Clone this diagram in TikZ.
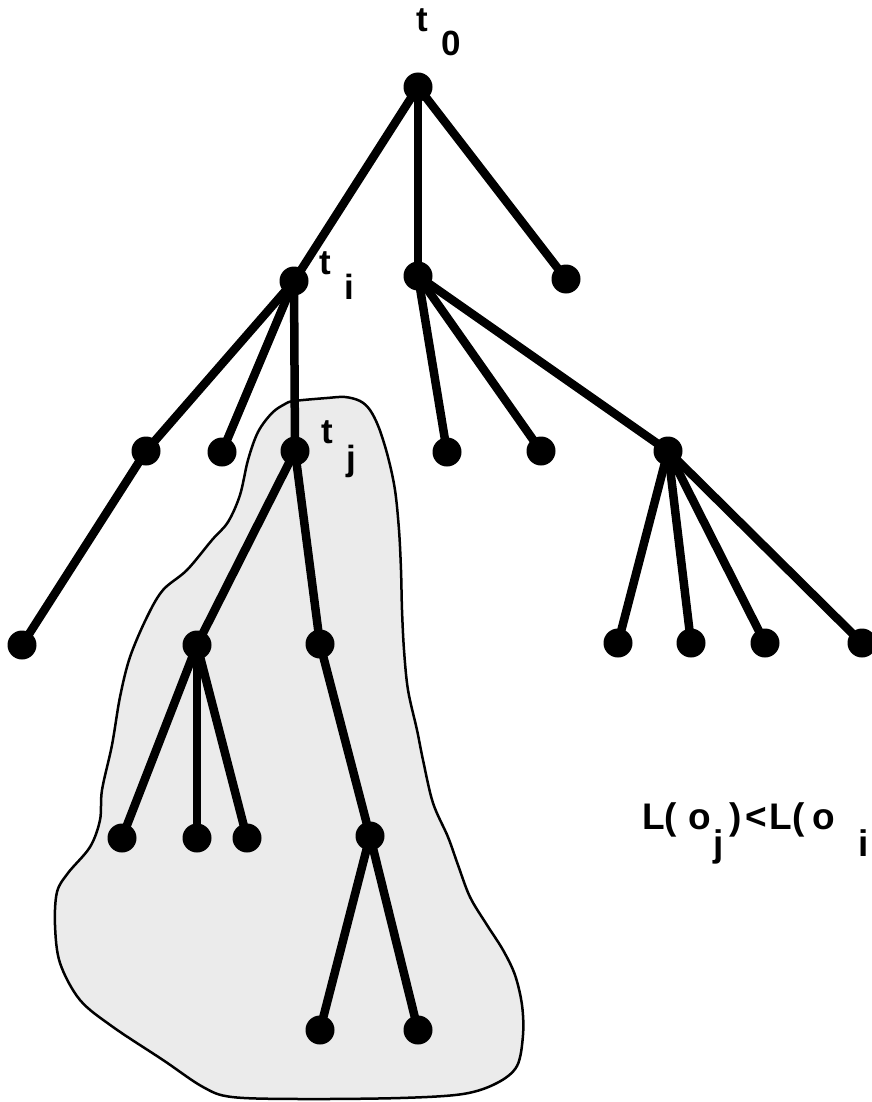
\documentclass[tikz,border=0pt]{standalone}
\usepackage{fontspec}
\setmainfont{Liberation Sans}
\begin{document}
\begin{tikzpicture}[x=1pt,y=-1pt,
  vertex/.style={circle, fill=black, inner sep=0pt, minimum size=29pt},
  branch/.style={line width=8.5pt},
  region/.style={line width=2.5pt, fill=black!8},
  lbl/.style={font=\fontsize{35}{40}\selectfont\bfseries, inner sep=0pt},
  rellbl/.style={font=\fontsize{37}{42}\selectfont\bfseries, inner sep=0pt}]
\useasboundingbox (0,0) rectangle (871,1102);

% shaded subtree region
\draw[region] plot[smooth cycle, tension=0.55] coordinates {
  (294,401) (327,398) (345,397) (360,401) (370,410) (379,428) (388,457)
  (395,490) (399,530) (401,570) (402,610) (404,650) (408,690) (417,730)
  (423,760) (433,803) (448,837) (458,865) (470,897) (487,925) (503,950)
  (515,975) (522,1005) (523,1035) (517,1066) (497,1083) (463,1094)
  (400,1098) (300,1099) (232,1097) (203,1087) (163,1060) (113,1027)
  (80,1000) (60,963) (55,925) (57,892) (68,873) (90,847) (100,820)
  (102,790) (112,745) (120,697) (130,657) (147,617) (163,590) (187,570)
  (212,540) (228,522) (240,495) (248,460) (258,432) (272,413) (285,404)};

% tree vertices
\node[vertex] (t0) at (418,87) {};
\node[vertex] (ti) at (294,281) {};
\node[vertex] (m)  at (418,276) {};
\node[vertex] (r)  at (566,279) {};
\node[vertex] (a1) at (146,451) {};
\node[vertex] (a2) at (222,452) {};
\node[vertex] (tj) at (295,451) {};
\node[vertex] (b1) at (447,452) {};
\node[vertex] (b2) at (541,451) {};
\node[vertex] (b3) at (668,451) {};
\node[vertex] (a1a) at (22,645) {};
\node[vertex] (j1) at (197,645) {};
\node[vertex] (j2) at (320,644) {};
\node[vertex] (b3a) at (618,643) {};
\node[vertex] (b3b) at (691,643) {};
\node[vertex] (b3c) at (765,643) {};
\node[vertex] (b3d) at (862,643) {};
\node[vertex] (j1a) at (122,838) {};
\node[vertex] (j1b) at (197,838) {};
\node[vertex] (j1c) at (247,838) {};
\node[vertex] (j2a) at (370,836) {};
\node[vertex] (j2aa) at (320,1030) {};
\node[vertex] (j2ab) at (418,1030) {};

% tree edges
\draw[branch] (t0.center) -- (ti.center);
\draw[branch] (t0.center) -- (m.center);
\draw[branch] (t0.center) -- (r.center);
\draw[branch] (ti.center) -- (a1.center);
\draw[branch] (ti.center) -- (a2.center);
\draw[branch] (ti.center) -- (tj.center);
\draw[branch] (m.center) -- (b1.center);
\draw[branch] (m.center) -- (b2.center);
\draw[branch] (m.center) -- (b3.center);
\draw[branch] (a1.center) -- (a1a.center);
\draw[branch] (tj.center) -- (j1.center);
\draw[branch] (tj.center) -- (j2.center);
\draw[branch] (b3.center) -- (b3a.center);
\draw[branch] (b3.center) -- (b3b.center);
\draw[branch] (b3.center) -- (b3c.center);
\draw[branch] (b3.center) -- (b3d.center);
\draw[branch] (j1.center) -- (j1a.center);
\draw[branch] (j1.center) -- (j1b.center);
\draw[branch] (j1.center) -- (j1c.center);
\draw[branch] (j2.center) -- (j2a.center);
\draw[branch] (j2a.center) -- (j2aa.center);
\draw[branch] (j2a.center) -- (j2ab.center);

% vertex labels
\node[lbl] (l0t) at (422,20) {t};
\node[lbl] (l0s) at (451,43) {0};
\node[lbl] (lit) at (325,263) {t};
\node[lbl] (lis) at (349,287) {i};
\node[lbl] (ljt) at (327,432) {t};
\node[lbl] (ljs) at (351,461) {j};

% label cost relation
\node[rellbl, anchor=base west] (rel) at (642,829)
  {L(\kern11pt o\kern3pt\raisebox{-27pt}{j}\kern5pt)\kern4pt<\kern3pt L(\kern8pt o\kern23pt\raisebox{-27pt}{i}};
\end{tikzpicture}
\end{document}
